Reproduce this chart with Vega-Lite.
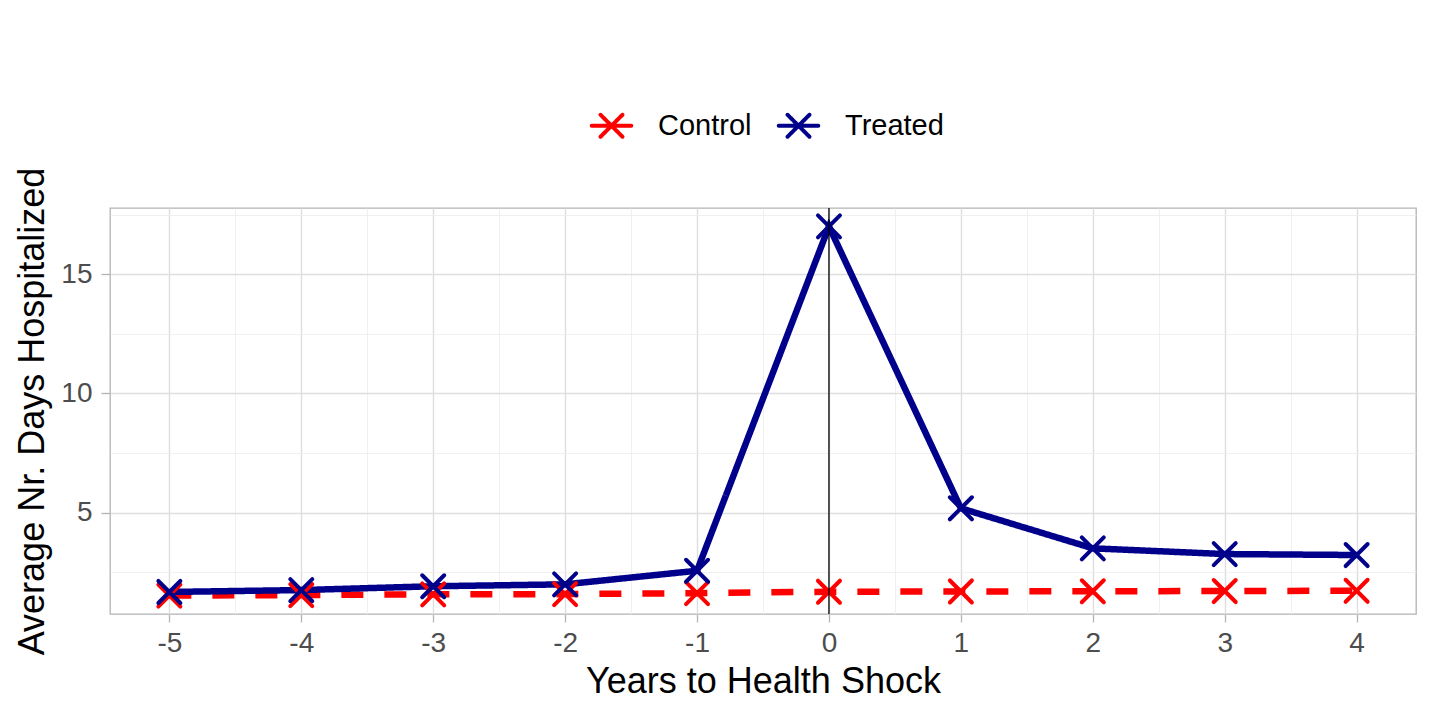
{
  "$schema": "https://vega.github.io/schema/vega-lite/v6.json",
  "width": 1306,
  "height": 406,
  "autosize": {"type": "none"},
  "padding": {"left": 110, "top": 208, "right": 19, "bottom": 104},
  "background": "white",
  "config": {
    "font": "Liberation Sans",
    "view": {"stroke": "#b3b3b3", "strokeWidth": 1.3},
    "axis": {
      "domain": false,
      "tickColor": "#b3b3b3",
      "tickWidth": 1.3,
      "labelColor": "#4d4d4d",
      "labelFontSize": 28,
      "titleColor": "black",
      "titleFontSize": 36,
      "titleFontWeight": "normal"
    }
  },
  "data": {
    "values": [
      {"year": -5, "group": "Control", "days": 1.52},
      {"year": -4, "group": "Control", "days": 1.54},
      {"year": -3, "group": "Control", "days": 1.57},
      {"year": -2, "group": "Control", "days": 1.58},
      {"year": -1, "group": "Control", "days": 1.62},
      {"year": 0, "group": "Control", "days": 1.68},
      {"year": 1, "group": "Control", "days": 1.69},
      {"year": 2, "group": "Control", "days": 1.70},
      {"year": 3, "group": "Control", "days": 1.71},
      {"year": 4, "group": "Control", "days": 1.72},
      {"year": -5, "group": "Treated", "days": 1.67},
      {"year": -4, "group": "Treated", "days": 1.75},
      {"year": -3, "group": "Treated", "days": 1.91},
      {"year": -2, "group": "Treated", "days": 1.99},
      {"year": -1, "group": "Treated", "days": 2.56},
      {"year": 0, "group": "Treated", "days": 17.0},
      {"year": 1, "group": "Treated", "days": 5.18},
      {"year": 2, "group": "Treated", "days": 3.50},
      {"year": 3, "group": "Treated", "days": 3.26},
      {"year": 4, "group": "Treated", "days": 3.22}
    ]
  },
  "encoding": {
    "x": {
      "field": "year",
      "type": "quantitative",
      "scale": {"domain": [-5.45, 4.45], "nice": false, "zero": false},
      "axis": {
        "title": "Years to Health Shock",
        "values": [-5, -4.5, -4, -3.5, -3, -2.5, -2, -1.5, -1, -0.5, 0, 0.5, 1, 1.5, 2, 2.5, 3, 3.5, 4],
        "labelExpr": "datum.value % 1 == 0 ? toString(datum.value) : ''",
        "tickSize": 8,
        "labelPadding": 7,
        "tickOpacity": {"condition": {"test": "datum.value % 1 != 0", "value": 0}, "value": 1},
        "grid": true,
        "gridColor": {"condition": {"test": "datum.value % 1 != 0", "value": "#ececec"}, "value": "#dedede"},
        "gridWidth": {"condition": {"test": "datum.value % 1 != 0", "value": 0.8}, "value": 1.4},
        "titleX": 653,
        "titleY": 78,
        "titleBaseline": "alphabetic"
      }
    },
    "y": {
      "field": "days",
      "type": "quantitative",
      "scale": {"domain": [0.746, 17.774], "nice": false, "zero": false},
      "axis": {
        "title": "Average Nr. Days Hospitalized",
        "values": [2.5, 5, 7.5, 10, 12.5, 15, 17.5],
        "labelExpr": "datum.value % 5 == 0 ? toString(datum.value) : ''",
        "tickSize": 9,
        "labelPadding": 9,
        "tickOpacity": {"condition": {"test": "datum.value % 5 != 0", "value": 0}, "value": 1},
        "grid": true,
        "gridColor": {"condition": {"test": "datum.value % 5 != 0", "value": "#ececec"}, "value": "#dedede"},
        "gridWidth": {"condition": {"test": "datum.value % 5 != 0", "value": 0.8}, "value": 1.4},
        "titleX": -67,
        "titleY": 203,
        "titleAngle": 270,
        "titleBaseline": "alphabetic",
        "titleAlign": "center"
      }
    }
  },
  "layer": [
    {
      "mark": {"type": "line", "strokeWidth": 6.5},
      "encoding": {
        "color": {
          "field": "group",
          "type": "nominal",
          "scale": {"domain": ["Control", "Treated"], "range": ["#ff0000", "#00008b"]},
          "legend": {
            "title": null,
            "orient": "none",
            "direction": "horizontal",
            "legendX": 487,
            "legendY": -97,
            "symbolType": "M-1.8,0H1.8M-1,-1L1,1M-1,1L1,-1",
            "symbolSize": 484,
            "symbolStrokeWidth": 4,
            "symbolFillColor": "transparent",
            "symbolDash": [1, 0],
            "labelFontSize": 29,
            "labelColor": "black",
            "labelOffset": 32,
            "columnPadding": 18,
            "encode": {
              "symbols": {"update": {"strokeCap": {"value": "round"}}}
            }
          }
        },
        "strokeDash": {
          "condition": {"test": "datum.group == 'Control'", "value": [22, 21]},
          "value": [1, 0]
        }
      }
    },
    {
      "mark": {
        "type": "point",
        "shape": "M-1,-1L1,1M-1,1L1,-1",
        "filled": false,
        "strokeWidth": 4,
        "size": 484,
        "strokeCap": "round",
        "opacity": 1
      },
      "encoding": {
        "color": {"field": "group", "type": "nominal"}
      }
    },
    {
      "data": {"values": [{"year": 0}]},
      "mark": {"type": "rule", "color": "black", "strokeWidth": 1.3},
      "encoding": {"x": {"field": "year", "type": "quantitative"}, "y": null}
    }
  ]
}
